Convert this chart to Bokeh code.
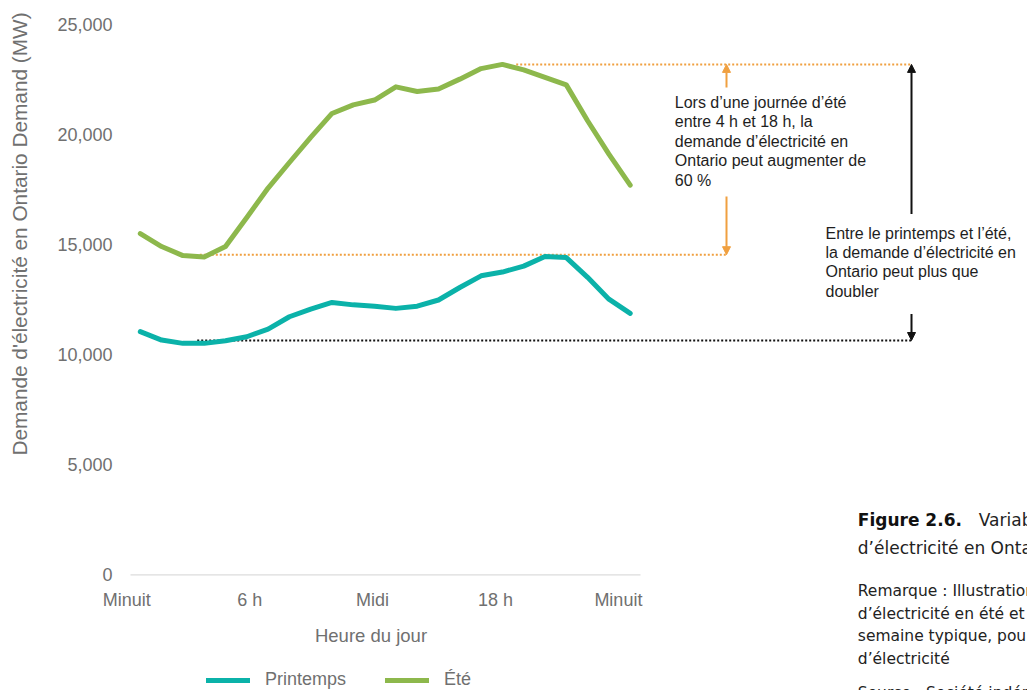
import math

from bokeh.plotting import figure
from bokeh.models import (Range1d, LinearAxis, FixedTicker, NumeralTickFormatter,
                          Label, Legend, LegendItem, Arrow, NormalHead)
from bokeh.embed import file_html
from bokeh.resources import INLINE

# Hourly Ontario demand (MW) for a typical day
heures = list(range(24))
printemps = [11050, 10670, 10520, 10520, 10640, 10820, 11170, 11730, 12080, 12380,
             12270, 12210, 12110, 12210, 12490, 13060, 13590, 13760, 14030, 14470,
             14420, 13520, 12530, 11880]
ete = [15510, 14920, 14510, 14450, 14920, 16240, 17580, 18740, 19880, 20970,
       21360, 21580, 22180, 21970, 22080, 22530, 23010, 23200, 22950, 22610,
       22270, 20640, 19120, 17710]

# Reference levels for the annotations
ete_pointe = 23200
ete_creux = 14550
printemps_creux = 10650

y_ticks = [0, 5000, 10000, 15000, 20000, 25000]
x_tick_pos = [0, 6, 12, 18, 24]
x_tick_labels = ["Minuit", "6 h", "Midi", "18 h", "Minuit"]

TEAL = "#0BB2A9"
GREEN = "#8DB84C"
ORANGE = "#F0A040"
GRAY = "#707070"
TEXT = "#1E1E1E"
FONT = "Liberation Sans"
CAP_FONT = "DejaVu Sans"

W, H = 1027, 690

# The frame fills the page; hour h sits at 139.8 + 21.3*h px, 0 MW at 574.3 px
px_per_h = 21.3
x_start = -139.8 / px_per_h
px_per_mw = 0.022
y_end = 574.3 / px_per_mw
y_start = y_end - H / px_per_mw


def hx(px):
    return x_start + px / px_per_h


def vy(py):
    return y_end - py / px_per_mw


p = figure(width=W, height=H, output_backend="svg", toolbar_location=None,
           x_range=Range1d(x_start, x_start + W / px_per_h),
           y_range=Range1d(y_start, y_end),
           x_axis_location=None, y_axis_location=None,
           min_border=0)
p.outline_line_color = None
p.xgrid.visible = False
p.ygrid.visible = False
p.background_fill_color = "white"
p.border_fill_color = "white"

# Left value axis drawn at the plot's left edge
ya = LinearAxis(ticker=FixedTicker(ticks=y_ticks),
                formatter=NumeralTickFormatter(format="0,0"),
                fixed_location=hx(120))
ya.axis_line_color = None
ya.major_tick_line_color = None
ya.minor_tick_line_color = None
ya.major_tick_out = 0
ya.major_tick_in = 0
ya.major_label_standoff = 8
ya.major_label_text_font = FONT
ya.major_label_text_font_size = "18px"
ya.major_label_text_color = GRAY
p.add_layout(ya, "left")

# Bottom axis on its own label scale (category-style spacing)
lab_px = 20.483
lab_start = -126.3 / lab_px
p.extra_x_ranges = {"lab": Range1d(lab_start, lab_start + W / lab_px)}
xa = LinearAxis(x_range_name="lab", ticker=FixedTicker(ticks=x_tick_pos),
                major_label_overrides=dict(zip(x_tick_pos, x_tick_labels)),
                fixed_location=vy(585))
xa.axis_line_color = None
xa.major_tick_line_color = None
xa.minor_tick_line_color = None
xa.major_tick_out = 0
xa.major_tick_in = 0
xa.major_label_standoff = 4
xa.major_label_text_font = FONT
xa.major_label_text_font_size = "18px"
xa.major_label_text_color = GRAY
p.add_layout(xa, "below")

# Zero baseline under the curves
p.segment(x0=[hx(130)], y0=[0], x1=[hx(640)], y1=[0], line_color="#DCDCDC", line_width=1.2)

# Dotted reference levels
p.segment(x0=[hx(199.3), hx(515.7)], y0=[ete_creux, ete_pointe],
          x1=[hx(726), hx(911)], y1=[ete_creux, ete_pointe],
          line_color=ORANGE, line_width=2, line_dash="2 2")
p.segment(x0=[hx(196.7)], y0=[printemps_creux], x1=[hx(911)], y1=[printemps_creux],
          line_color="#111111", line_width=2, line_dash="2 2")

r_pr = p.line(heures, printemps, line_color=TEAL, line_width=5,
              line_join="round", line_cap="round")
r_et = p.line(heures, ete, line_color=GREEN, line_width=5,
              line_join="round", line_cap="round")


# Arrows spanning the gaps
def arrow(px, y_from, y_to, color):
    p.add_layout(Arrow(end=NormalHead(size=8, fill_color=color, line_color=color, line_width=1),
                       x_start=hx(px), y_start=y_from, x_end=hx(px), y_end=y_to,
                       line_color=color, line_width=2))


arrow(726, 22150, ete_pointe, ORANGE)
arrow(726, 17200, ete_creux, ORANGE)
arrow(911, 16400, ete_pointe, "#111111")
arrow(911, 11850, printemps_creux, "#111111")


def put(text, px, base, size, color=TEXT, font=FONT, style="normal", align="left",
        angle=0.0, centre=False):
    # base is the text baseline in page pixels (or its centre when centre=True)
    mid = base if centre else base - 0.345 * size
    p.add_layout(Label(x=px, y=H - mid, x_units="screen", y_units="screen",
                       text=text, text_font=font, text_font_size=f"{size}px",
                       text_font_style=style, text_color=color, text_align=align,
                       text_baseline="middle", angle=angle))


def block(lines, px, base, step, size, **kw):
    for i, t in enumerate(lines):
        put(t, px, base + i * step, size, **kw)


block(["Lors d\u2019une journée d\u2019été",
       "entre 4 h et 18 h, la",
       "demande d\u2019électricité en",
       "Ontario peut augmenter de",
       "60 %"], 674.3, 107.5, 19.4, 16)

block(["Entre le printemps et l\u2019été,",
       "la demande d\u2019électricité en",
       "Ontario peut plus que",
       "doubler"], 825, 238.3, 19.3, 16)

# Axis titles
put("Demande d'électricité en Ontario Demand (MW)", 18.5, 233.5, 20.8, color=GRAY,
    align="center", angle=math.pi / 2, centre=True)
put("Heure du jour", 370.5, 641.7, 18.5, color=GRAY, align="center")

# Legend under the axis title
legend = Legend(items=[LegendItem(label="Printemps", renderers=[r_pr]),
                       LegendItem(label="Été", renderers=[r_et])],
                orientation="horizontal", location=(206, 0),
                glyph_width=44, glyph_height=20, label_standoff=15, spacing=39,
                padding=0, margin=0, border_line_color=None,
                background_fill_alpha=0,
                label_text_font=FONT, label_text_font_size="18px",
                label_text_color=GRAY)
p.add_layout(legend)

# Figure caption and note
put("Figure 2.6.", 857.3, 525, 17, color="#111111", font=CAP_FONT, style="bold")
put("Variabilité quotidienne et saisonnière de la demande", 978.3, 525, 17,
    color="#222222", font=CAP_FONT)
put("d\u2019électricité en Ontario", 857.3, 553.3, 17, color="#222222", font=CAP_FONT)
block(["Remarque : Illustration de la demande",
       "d\u2019électricité en été et au printemps, pour une",
       "semaine typique, pour la demande totale",
       "d\u2019électricité"], 857.3, 596, 22.5, 15.5, color="#222222", font=CAP_FONT)
put("Source : Société indépendante d\u2019exploitation du réseau d\u2019électricité",
    857.3, 698, 15.5, color="#222222", font=CAP_FONT)

open("out.html", "w").write(file_html(p, INLINE))
